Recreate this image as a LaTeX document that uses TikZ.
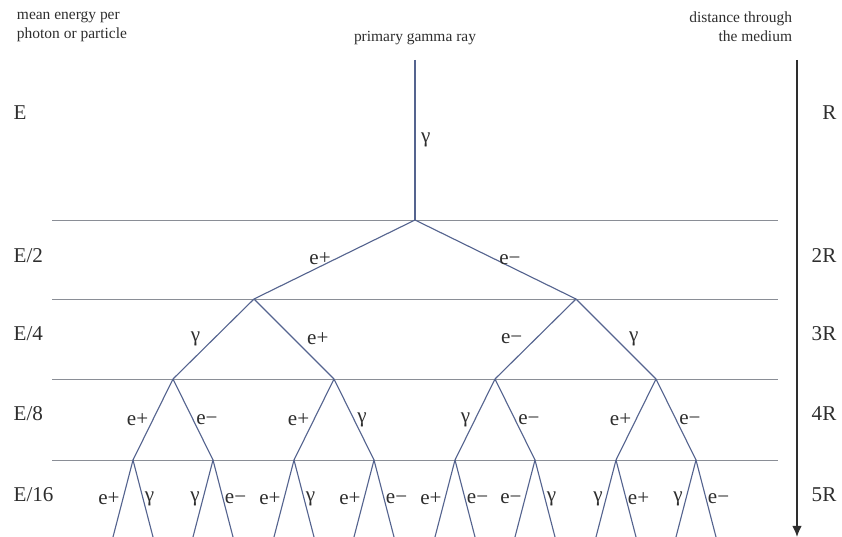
\documentclass[tikz,border=0pt]{standalone}
\usepackage{fontspec}
\setmainfont{Liberation Serif}
\usepackage{tikz}
\usetikzlibrary{arrows.meta,positioning}

\definecolor{branchblue}{HTML}{55648F}
\definecolor{runggray}{HTML}{8A8E96}
\definecolor{inkgray}{HTML}{2E2E2E}

\begin{document}
\begin{tikzpicture}[
  x=0.025cm, y=-0.025cm,
  font=\fontsize{15}{17}\selectfont,
  branch/.style={draw=branchblue, line width=0.8pt},
  rung/.style={draw=runggray, line width=0.6pt},
  dist/.style={draw=inkgray, line width=1.1pt, -{Latex[length=8pt,width=7pt]}},
  lab/.style={text=inkgray, inner sep=1pt},
  hdr/.style={font=\fontsize{11}{13.5}\selectfont, text=inkgray}
]
  \useasboundingbox (0,0) rectangle (842,537);

  % header texts
  \node[hdr, anchor=north west, align=left] (henergy) at (12,7) {mean energy per\\photon or particle};
  \node[hdr, anchor=north] (hprim) at (415,26) {primary gamma ray};
  \node[hdr, anchor=north east, align=right] (hdist) at (797,7) {distance through\\the medium};

  % level lines
  \foreach \k/\y in {1/220, 2/299, 3/379, 4/460} {
    \draw[rung] (52,\y) coordinate (hw\k) -- (778,\y) coordinate (he\k);
  }

  % energy and distance at each level
  \node[lab, anchor=west] (en0) at (12,113) {E};
  \node[lab, anchor=east] (ds0) at (838,113) {R};
  \foreach \y/\n/\k in {256/2/2, 334/4/3, 414/8/4, 495/16/5} {
    \node[lab, anchor=west] (en\k) at (12,\y) {E/\n};
    \node[lab, anchor=east] (ds\k) at (838,\y) {\k R};
  }

  % distance arrow
  \coordinate (dtop) at (797,60);
  \coordinate (dbot) at (797,537);
  \draw[dist] (dtop) -- (dbot);

  % branching points
  \coordinate (a) at (415,60);
  \coordinate (b) at (415,220);
  \foreach \i/\x in {1/254, 2/576} \coordinate (c\i) at (\x,299);
  \foreach \i/\x in {1/173, 2/334, 3/495, 4/656} \coordinate (d\i) at (\x,379);
  \foreach \i/\x in {1/133, 2/213, 3/294, 4/374, 5/455, 6/535, 7/616, 8/696} {
    \coordinate (e\i) at (\x,460);
    \coordinate (fl\i) at (\x-20,537);
    \coordinate (fr\i) at (\x+20,537);
  }

  % the shower
  \draw[branch] (a) -- node[lab, right=3pt] (g0) {γ} (b);
  \draw[branch] (b) -- node[lab, above, pos=0.59] (lb1) {e+} (c1);
  \draw[branch] (b) -- node[lab, above, pos=0.59] (lb2) {e−} (c2);

  \foreach \p/\lt/\rt [evaluate=\p as \l using int(2*\p-1), evaluate=\p as \r using int(2*\p)]
      in {1/γ/e+, 2/e−/γ} {
    \draw[branch] (c\p) -- node[lab, left=8pt] (lc\l) {\lt} (d\l);
    \draw[branch] (c\p) -- node[lab, right=8pt] (lc\r) {\rt} (d\r);
  }

  \foreach \p/\lt/\rt [evaluate=\p as \l using int(2*\p-1), evaluate=\p as \r using int(2*\p)]
      in {1/e+/e−, 2/e+/γ, 3/γ/e−, 4/e+/e−} {
    \draw[branch] (d\p) -- node[lab, left=2pt] (ld\l) {\lt} (e\l);
    \draw[branch] (d\p) -- node[lab, right=1pt] (ld\r) {\rt} (e\r);
  }

  \foreach \p/\lt/\rt in {1/e+/γ, 2/γ/e−, 3/e+/γ, 4/e+/e−, 5/e+/e−, 6/e−/γ, 7/γ/e+, 8/γ/e−} {
    \draw[branch] (e\p) -- node[lab, left=1pt] (lel\p) {\lt} (fl\p);
    \draw[branch] (e\p) -- node[lab, right=0pt] (ler\p) {\rt} (fr\p);
  }
\end{tikzpicture}
\end{document}
